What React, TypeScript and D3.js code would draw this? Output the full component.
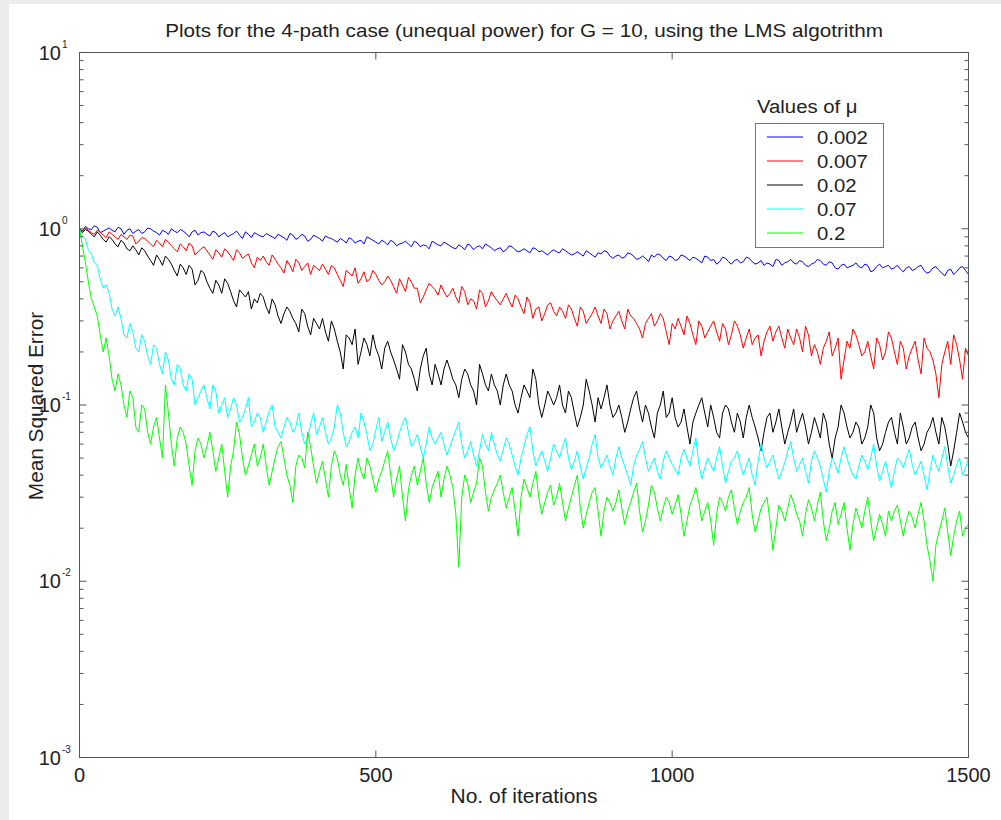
import React from "react";
import * as d3 from "d3";

const TITLE = "Plots for the 4-path case (unequal power) for G = 10, using the LMS algotrithm";
const X_LABEL = "No. of iterations";
const Y_LABEL = "Mean Squared Error";
const LEGEND_TITLE = "Values of μ";
const MU_LABELS = ["0.002", "0.007", "0.02", "0.07", "0.2"];
const COLORS = ["#0000ff", "#ff0000", "#000000", "#00ffff", "#00ff00"];
const ITER_STEP = 5;
const X_TICKS = [0, 500, 1000, 1500];
const Y_DECADES = [1, 0, -1, -2, -3];

// MSE sampled every 5 iterations (0..1500); one row = 100 iterations
const mse002 = [
  1.0,
  0.97, 1.03, 1.0, 0.99, 1.04, 1.02, 0.95, 0.97, 0.99, 1.01, 0.98, 0.96, 1.02, 1.0, 0.93, 0.98, 1.0, 0.94, 0.97, 0.99,
  0.94, 0.96, 1.01, 1.0, 0.97, 0.95, 0.92, 0.98, 0.96, 0.93, 1.0, 0.97, 0.95, 0.99, 0.97, 0.94, 0.9, 0.96, 0.98, 0.92,
  0.95, 0.96, 0.93, 0.91, 0.97, 0.95, 0.9, 0.93, 0.95, 0.9, 0.92, 0.94, 0.97, 0.92, 0.88, 0.96, 0.93, 0.89, 0.95, 0.93,
  0.91, 0.9, 0.94, 0.92, 0.9, 0.88, 0.93, 0.91, 0.89, 0.86, 0.94, 0.92, 0.87, 0.89, 0.93, 0.91, 0.85, 0.87, 0.92, 0.9,
  0.88, 0.85, 0.91, 0.89, 0.88, 0.86, 0.84, 0.88, 0.86, 0.83, 0.89, 0.87, 0.83, 0.85, 0.86, 0.82, 0.9, 0.88, 0.86, 0.84,
  0.82, 0.86, 0.84, 0.81, 0.86, 0.84, 0.8, 0.82, 0.83, 0.85, 0.82, 0.79, 0.85, 0.83, 0.79, 0.81, 0.8, 0.77, 0.85, 0.83,
  0.81, 0.8, 0.84, 0.82, 0.8, 0.78, 0.77, 0.81, 0.79, 0.76, 0.82, 0.8, 0.76, 0.79, 0.8, 0.77, 0.82, 0.8, 0.78, 0.75,
  0.77, 0.78, 0.74, 0.76, 0.8, 0.79, 0.76, 0.74, 0.75, 0.77, 0.75, 0.73, 0.78, 0.77, 0.74, 0.75, 0.73, 0.71, 0.74, 0.76,
  0.74, 0.73, 0.77, 0.75, 0.73, 0.71, 0.72, 0.74, 0.72, 0.7, 0.75, 0.73, 0.71, 0.69, 0.73, 0.72, 0.75, 0.74, 0.7, 0.68,
  0.7, 0.71, 0.68, 0.69, 0.73, 0.72, 0.7, 0.67, 0.68, 0.7, 0.68, 0.65, 0.71, 0.69, 0.72, 0.71, 0.68, 0.66, 0.7, 0.69,
  0.66, 0.67, 0.71, 0.7, 0.68, 0.66, 0.69, 0.68, 0.66, 0.64, 0.7, 0.69, 0.66, 0.67, 0.63, 0.65, 0.69, 0.68, 0.65, 0.63,
  0.66, 0.67, 0.64, 0.65, 0.69, 0.68, 0.65, 0.63, 0.64, 0.66, 0.62, 0.64, 0.63, 0.61, 0.67, 0.66, 0.62, 0.64, 0.65, 0.67,
  0.64, 0.63, 0.66, 0.65, 0.62, 0.61, 0.63, 0.64, 0.67, 0.66, 0.63, 0.62, 0.65, 0.64, 0.6, 0.59, 0.62, 0.63, 0.6, 0.61,
  0.62, 0.64, 0.61, 0.6, 0.63, 0.62, 0.57, 0.58, 0.61, 0.63, 0.6, 0.61, 0.62, 0.59, 0.6, 0.62, 0.59, 0.57, 0.6, 0.61,
  0.58, 0.59, 0.61, 0.62, 0.58, 0.56, 0.57, 0.6, 0.61, 0.58, 0.56, 0.54, 0.58, 0.59, 0.55, 0.57, 0.6, 0.61, 0.58, 0.55,
];

const mse007 = [
  1.0,
  0.97, 1.01, 0.98, 0.95, 0.93, 0.98, 0.96, 0.92, 0.89, 0.96, 0.93, 0.9, 0.87, 0.93, 0.9, 0.87, 0.92, 0.91, 0.82, 0.85,
  0.89, 0.88, 0.85, 0.82, 0.79, 0.86, 0.83, 0.79, 0.87, 0.84, 0.8, 0.77, 0.74, 0.82, 0.79, 0.75, 0.83, 0.8, 0.71, 0.74,
  0.77, 0.79, 0.75, 0.71, 0.67, 0.76, 0.73, 0.69, 0.77, 0.74, 0.7, 0.66, 0.76, 0.73, 0.68, 0.7, 0.72, 0.64, 0.6, 0.69,
  0.66, 0.7, 0.65, 0.62, 0.71, 0.67, 0.63, 0.6, 0.56, 0.66, 0.62, 0.57, 0.67, 0.64, 0.58, 0.61, 0.64, 0.55, 0.62, 0.6,
  0.58, 0.63, 0.59, 0.55, 0.62, 0.6, 0.55, 0.51, 0.47, 0.58, 0.56, 0.54, 0.6, 0.49, 0.52, 0.57, 0.5, 0.52, 0.58, 0.55,
  0.51, 0.48, 0.5, 0.54, 0.51, 0.47, 0.43, 0.52, 0.48, 0.44, 0.53, 0.5, 0.46, 0.46, 0.38, 0.41, 0.45, 0.49, 0.47, 0.45,
  0.42, 0.48, 0.44, 0.41, 0.43, 0.46, 0.41, 0.38, 0.47, 0.44, 0.37, 0.4, 0.39, 0.35, 0.45, 0.43, 0.36, 0.39, 0.44, 0.41,
  0.39, 0.37, 0.4, 0.43, 0.39, 0.36, 0.42, 0.4, 0.36, 0.33, 0.41, 0.38, 0.31, 0.35, 0.36, 0.3, 0.33, 0.37, 0.38, 0.34,
  0.32, 0.36, 0.34, 0.31, 0.37, 0.35, 0.31, 0.28, 0.36, 0.34, 0.29, 0.31, 0.33, 0.36, 0.32, 0.29, 0.35, 0.33, 0.27, 0.3,
  0.32, 0.34, 0.3, 0.27, 0.35, 0.32, 0.31, 0.29, 0.27, 0.24, 0.29, 0.31, 0.33, 0.28, 0.3, 0.33, 0.31, 0.26, 0.22, 0.29,
  0.27, 0.31, 0.28, 0.25, 0.32, 0.29, 0.25, 0.22, 0.3, 0.28, 0.24, 0.26, 0.28, 0.3, 0.26, 0.23, 0.29, 0.27, 0.22, 0.25,
  0.3, 0.28, 0.25, 0.21, 0.24, 0.27, 0.22, 0.24, 0.25, 0.19, 0.23, 0.26, 0.28, 0.23, 0.26, 0.28, 0.24, 0.21, 0.27, 0.24,
  0.22, 0.27, 0.24, 0.2, 0.28, 0.25, 0.19, 0.22, 0.2, 0.17, 0.21, 0.23, 0.26, 0.19, 0.21, 0.24, 0.14, 0.18, 0.23, 0.21,
  0.27, 0.25, 0.22, 0.19, 0.2, 0.23, 0.19, 0.16, 0.24, 0.22, 0.18, 0.2, 0.26, 0.24, 0.2, 0.17, 0.23, 0.21, 0.16, 0.19,
  0.21, 0.23, 0.18, 0.15, 0.24, 0.21, 0.2, 0.18, 0.15, 0.11, 0.17, 0.2, 0.23, 0.17, 0.25, 0.22, 0.18, 0.14, 0.21, 0.19,
];

const mse02 = [
  1.0,
  0.95, 0.99, 0.97, 0.93, 0.9, 0.96, 0.92, 0.87, 0.84, 0.9, 0.87, 0.82, 0.79, 0.86, 0.83, 0.77, 0.75, 0.8, 0.76, 0.71,
  0.78, 0.75, 0.7, 0.66, 0.62, 0.71, 0.67, 0.62, 0.7, 0.67, 0.63, 0.58, 0.54, 0.63, 0.6, 0.55, 0.62, 0.59, 0.48, 0.51,
  0.58, 0.56, 0.5, 0.46, 0.43, 0.51, 0.48, 0.43, 0.52, 0.49, 0.44, 0.39, 0.36, 0.45, 0.43, 0.41, 0.44, 0.35, 0.4, 0.38,
  0.43, 0.41, 0.36, 0.33, 0.4, 0.37, 0.32, 0.29, 0.33, 0.36, 0.34, 0.31, 0.29, 0.26, 0.35, 0.33, 0.28, 0.25, 0.31, 0.29,
  0.27, 0.31, 0.26, 0.23, 0.3, 0.27, 0.23, 0.2, 0.16, 0.25, 0.24, 0.22, 0.27, 0.17, 0.2, 0.24, 0.22, 0.19, 0.25, 0.21,
  0.19, 0.16, 0.21, 0.23, 0.2, 0.18, 0.16, 0.14, 0.22, 0.2, 0.17, 0.16, 0.14, 0.12, 0.16, 0.19, 0.21, 0.15, 0.13, 0.17,
  0.15, 0.13, 0.16, 0.18, 0.16, 0.14, 0.13, 0.11, 0.14, 0.16, 0.15, 0.13, 0.12, 0.1, 0.17, 0.15, 0.13, 0.12, 0.15, 0.13,
  0.12, 0.1, 0.13, 0.15, 0.13, 0.12, 0.1, 0.09, 0.11, 0.13, 0.12, 0.11, 0.16, 0.14, 0.1, 0.085, 0.1, 0.12, 0.11, 0.1,
  0.11, 0.13, 0.1, 0.09, 0.12, 0.11, 0.09, 0.075, 0.085, 0.1, 0.14, 0.12, 0.1, 0.08, 0.11, 0.095, 0.11, 0.13, 0.1, 0.085,
  0.09, 0.1, 0.085, 0.07, 0.08, 0.095, 0.11, 0.12, 0.095, 0.08, 0.1, 0.09, 0.075, 0.065, 0.09, 0.1, 0.12, 0.085, 0.09, 0.11,
  0.085, 0.075, 0.08, 0.095, 0.075, 0.06, 0.08, 0.09, 0.1, 0.11, 0.09, 0.075, 0.1, 0.085, 0.07, 0.065, 0.09, 0.1, 0.095, 0.08,
  0.07, 0.09, 0.08, 0.065, 0.085, 0.1, 0.085, 0.075, 0.065, 0.055, 0.07, 0.085, 0.09, 0.07, 0.08, 0.095, 0.075, 0.06, 0.07, 0.08,
  0.095, 0.07, 0.08, 0.09, 0.075, 0.06, 0.07, 0.085, 0.075, 0.065, 0.09, 0.08, 0.06, 0.05, 0.065, 0.075, 0.1, 0.09, 0.075, 0.065,
  0.07, 0.08, 0.075, 0.06, 0.065, 0.075, 0.1, 0.09, 0.065, 0.055, 0.06, 0.07, 0.08, 0.085, 0.07, 0.06, 0.09, 0.075, 0.06, 0.065,
  0.075, 0.08, 0.065, 0.055, 0.06, 0.07, 0.075, 0.085, 0.07, 0.06, 0.085, 0.075, 0.06, 0.045, 0.055, 0.07, 0.09, 0.08, 0.07, 0.065,
];

const mse07 = [
  1.0,
  0.9, 0.87, 0.76, 0.72, 0.64, 0.62, 0.52, 0.46, 0.48, 0.43, 0.35, 0.32, 0.36, 0.31, 0.25, 0.24, 0.29, 0.26, 0.21, 0.2,
  0.25, 0.23, 0.19, 0.17, 0.22, 0.21, 0.17, 0.15, 0.2, 0.18, 0.14, 0.13, 0.17, 0.16, 0.13, 0.12, 0.15, 0.14, 0.1, 0.11,
  0.12, 0.13, 0.11, 0.095, 0.13, 0.12, 0.09, 0.1, 0.11, 0.085, 0.095, 0.11, 0.1, 0.08, 0.085, 0.095, 0.11, 0.075, 0.08, 0.09,
  0.085, 0.07, 0.08, 0.092, 0.1, 0.075, 0.07, 0.065, 0.075, 0.085, 0.08, 0.07, 0.075, 0.09, 0.07, 0.06, 0.065, 0.078, 0.09, 0.068,
  0.075, 0.085, 0.07, 0.06, 0.065, 0.075, 0.1, 0.09, 0.07, 0.058, 0.062, 0.07, 0.075, 0.065, 0.09, 0.08, 0.068, 0.055, 0.06, 0.072,
  0.085, 0.062, 0.07, 0.08, 0.065, 0.055, 0.06, 0.07, 0.078, 0.085, 0.07, 0.058, 0.062, 0.068, 0.058, 0.05, 0.06, 0.075, 0.065, 0.06,
  0.065, 0.07, 0.06, 0.052, 0.058, 0.065, 0.072, 0.08, 0.06, 0.05, 0.055, 0.062, 0.052, 0.045, 0.055, 0.068, 0.06, 0.055, 0.07, 0.06,
  0.052, 0.048, 0.056, 0.065, 0.06, 0.052, 0.045, 0.04, 0.05, 0.058, 0.068, 0.075, 0.055, 0.045, 0.05, 0.055, 0.048, 0.042, 0.05, 0.06,
  0.055, 0.05, 0.058, 0.065, 0.05, 0.043, 0.048, 0.055, 0.045, 0.038, 0.044, 0.05, 0.06, 0.068, 0.05, 0.044, 0.048, 0.052, 0.045, 0.04,
  0.05, 0.058, 0.05, 0.045, 0.04, 0.035, 0.045, 0.052, 0.056, 0.062, 0.05, 0.042, 0.046, 0.05, 0.042, 0.038, 0.048, 0.055, 0.05, 0.046,
  0.043, 0.04, 0.05, 0.056, 0.05, 0.045, 0.055, 0.065, 0.046, 0.038, 0.044, 0.05, 0.046, 0.042, 0.05, 0.058, 0.045, 0.036, 0.042, 0.048,
  0.05, 0.055, 0.046, 0.04, 0.045, 0.05, 0.04, 0.035, 0.048, 0.06, 0.05, 0.044, 0.048, 0.052, 0.044, 0.038, 0.042, 0.047, 0.055, 0.062,
  0.05, 0.042, 0.046, 0.05, 0.042, 0.036, 0.048, 0.055, 0.05, 0.045, 0.038, 0.032, 0.042, 0.05, 0.046, 0.041, 0.05, 0.058, 0.05, 0.044,
  0.04, 0.038, 0.045, 0.052, 0.048, 0.043, 0.05, 0.06, 0.045, 0.037, 0.042, 0.048, 0.04, 0.034, 0.042, 0.05, 0.048, 0.044, 0.05, 0.056,
  0.046, 0.04, 0.044, 0.048, 0.04, 0.033, 0.042, 0.052, 0.046, 0.042, 0.05, 0.058, 0.045, 0.036, 0.04, 0.046, 0.05, 0.04, 0.044, 0.05,
];

const mse2 = [
  1.0,
  0.8, 0.64, 0.5, 0.4, 0.36, 0.32, 0.25, 0.2, 0.24, 0.19, 0.14, 0.12, 0.15, 0.13, 0.1, 0.085, 0.12, 0.11, 0.075, 0.07,
  0.1, 0.095, 0.07, 0.06, 0.075, 0.085, 0.065, 0.05, 0.13, 0.09, 0.06, 0.045, 0.065, 0.075, 0.07, 0.06, 0.045, 0.035, 0.055, 0.065,
  0.06, 0.05, 0.058, 0.07, 0.055, 0.042, 0.05, 0.06, 0.042, 0.03, 0.045, 0.055, 0.08, 0.068, 0.05, 0.04, 0.045, 0.052, 0.06, 0.045,
  0.05, 0.06, 0.045, 0.035, 0.042, 0.05, 0.058, 0.062, 0.05, 0.04, 0.035, 0.028, 0.045, 0.052, 0.05, 0.044, 0.07, 0.058, 0.045, 0.036,
  0.042, 0.048, 0.038, 0.03, 0.045, 0.055, 0.05, 0.04, 0.035, 0.046, 0.034, 0.026, 0.04, 0.05, 0.042, 0.038, 0.05, 0.045, 0.038, 0.032,
  0.038, 0.042, 0.048, 0.055, 0.04, 0.03, 0.038, 0.045, 0.03, 0.022, 0.033, 0.04, 0.045, 0.035, 0.042, 0.05, 0.036, 0.028, 0.034, 0.038,
  0.042, 0.03, 0.038, 0.045, 0.04, 0.034, 0.024, 0.012, 0.03, 0.04, 0.036, 0.028, 0.032, 0.036, 0.05, 0.045, 0.032, 0.025, 0.03, 0.033,
  0.036, 0.04, 0.032, 0.026, 0.03, 0.034, 0.025, 0.018, 0.03, 0.038, 0.034, 0.03, 0.036, 0.042, 0.03, 0.024, 0.028, 0.032, 0.035, 0.027,
  0.03, 0.036, 0.028, 0.022, 0.026, 0.03, 0.035, 0.04, 0.026, 0.02, 0.024, 0.028, 0.032, 0.034, 0.025, 0.018, 0.025, 0.03, 0.028, 0.025,
  0.028, 0.033, 0.026, 0.021, 0.025, 0.028, 0.032, 0.036, 0.025, 0.019, 0.022, 0.027, 0.035, 0.032, 0.026, 0.022, 0.026, 0.03, 0.028, 0.024,
  0.027, 0.031, 0.024, 0.018, 0.022, 0.027, 0.03, 0.034, 0.028, 0.022, 0.025, 0.028, 0.022, 0.016, 0.024, 0.03, 0.028, 0.025, 0.03, 0.033,
  0.026, 0.021, 0.025, 0.028, 0.03, 0.034, 0.024, 0.019, 0.022, 0.026, 0.028, 0.03, 0.022, 0.015, 0.02, 0.027, 0.025, 0.022, 0.026, 0.031,
  0.028, 0.024, 0.022, 0.018, 0.024, 0.029, 0.026, 0.022, 0.027, 0.032, 0.022, 0.017, 0.02, 0.025, 0.028, 0.021, 0.024, 0.028, 0.02, 0.015,
  0.021, 0.026, 0.023, 0.02, 0.025, 0.03, 0.022, 0.017, 0.02, 0.024, 0.021, 0.018, 0.025, 0.022, 0.025, 0.027, 0.022, 0.018, 0.022, 0.025,
  0.023, 0.02, 0.024, 0.028, 0.022, 0.016, 0.013, 0.01, 0.016, 0.019, 0.022, 0.026, 0.019, 0.014, 0.018, 0.022, 0.025, 0.018, 0.02, 0.021,
];

const SERIES = [mse002, mse007, mse02, mse07, mse2];

export default function App() {
  const W = 1001;
  const H = 820;
  const L = 79.5, R = 968.5, T = 52.5, B = 757.5;
  const x = d3.scaleLinear().domain([0, 1500]).range([L, R]);
  const y = d3.scaleLog().domain([1e-3, 10]).range([B, T]);
  const line = d3
    .line<number>()
    .x((_, i) => x(i * ITER_STEP))
    .y((d) => y(d));
  const minor: number[] = [];
  for (let e = -3; e < 1; e++) for (let k = 2; k <= 9; k++) minor.push(k * Math.pow(10, e));
  const font = "'Liberation Sans', Arial, Helvetica, sans-serif";
  const axisColor = "#555";
  const textColor = "#222";

  const legX = 755.5, legY = 123.5, legW = 128, legH = 124;
  const rowY0 = 137, rowDY = 24;

  return (
    <svg
      width={W}
      height={H}
      style={{ position: "absolute", left: 0, top: 0 }}
      fontFamily={font}
    >
      <rect width={W} height={H} fill="#ececec" />
      <rect x={9} y={4} width={W - 9} height={H - 4} fill="#ffffff" />
      <defs>
        <clipPath id="plotclip">
          <rect x={L} y={T} width={R - L} height={B - T} />
        </clipPath>
      </defs>

      {/* title */}
      <text
        transform={`translate(${(L + R) / 2},${37}) scale(1.15,1)`}
        textAnchor="middle"
        fontSize={18}
        fill={textColor}
      >
        {TITLE}
      </text>

      {/* series */}
      <g clipPath="url(#plotclip)">
        {SERIES.map((s, i) => (
          <path key={i} d={line(s) || ""} fill="none" stroke={COLORS[i]} strokeWidth={1} />
        ))}
      </g>

      {/* axes box */}
      <rect x={L} y={T} width={R - L} height={B - T} fill="none" stroke={axisColor} strokeWidth={1} />

      {/* x ticks */}
      {X_TICKS.map((t) => (
        <g key={t}>
          <line x1={x(t)} x2={x(t)} y1={B} y2={B - 7} stroke={axisColor} />
          <line x1={x(t)} x2={x(t)} y1={T} y2={T + 7} stroke={axisColor} />
          <text x={x(t)} y={782} textAnchor="middle" fontSize={20} fill={textColor}>
            {t}
          </text>
        </g>
      ))}

      {/* y major ticks */}
      {Y_DECADES.map((e) => {
        const yy = y(Math.pow(10, e));
        return (
          <g key={e}>
            <line x1={L} x2={L + 7} y1={yy} y2={yy} stroke={axisColor} />
            <line x1={R} x2={R - 7} y1={yy} y2={yy} stroke={axisColor} />
            <g transform={`translate(${61},${yy + 7})`}>
              <text textAnchor="end" fontSize={20} fill={textColor}>
                10
              </text>
              <text x={1} y={-12} fontSize={10} fill={textColor}>
                {e}
              </text>
            </g>
          </g>
        );
      })}

      {/* y minor ticks */}
      {minor.map((v, i) => (
        <g key={i}>
          <line x1={L} x2={L + 4} y1={y(v)} y2={y(v)} stroke={axisColor} />
          <line x1={R} x2={R - 4} y1={y(v)} y2={y(v)} stroke={axisColor} />
        </g>
      ))}

      {/* axis labels */}
      <text
        transform={`translate(${(L + R) / 2},${803}) scale(1.05,1)`}
        textAnchor="middle"
        fontSize={20}
        fill={textColor}
      >
        {X_LABEL}
      </text>
      <text
        transform={`translate(${43},${406}) rotate(-90) scale(1.04,1)`}
        textAnchor="middle"
        fontSize={20}
        fill={textColor}
      >
        {Y_LABEL}
      </text>

      {/* legend */}
      <text
        transform={`translate(${757},${113}) scale(1.07,1)`}
        fontSize={19}
        fill={textColor}
      >
        {LEGEND_TITLE}
      </text>
      <rect x={legX} y={legY} width={legW} height={legH} fill="#fff" stroke="#777" strokeWidth={1} />
      {MU_LABELS.map((lab, i) => {
        const yy = rowY0 + i * rowDY;
        return (
          <g key={lab}>
            <line x1={767} x2={803} y1={yy} y2={yy} stroke={COLORS[i]} strokeWidth={1} />
            <text
              transform={`translate(${817},${yy + 7}) scale(1.07,1)`}
              fontSize={19}
              fill={textColor}
            >
              {lab}
            </text>
          </g>
        );
      })}
    </svg>
  );
}
